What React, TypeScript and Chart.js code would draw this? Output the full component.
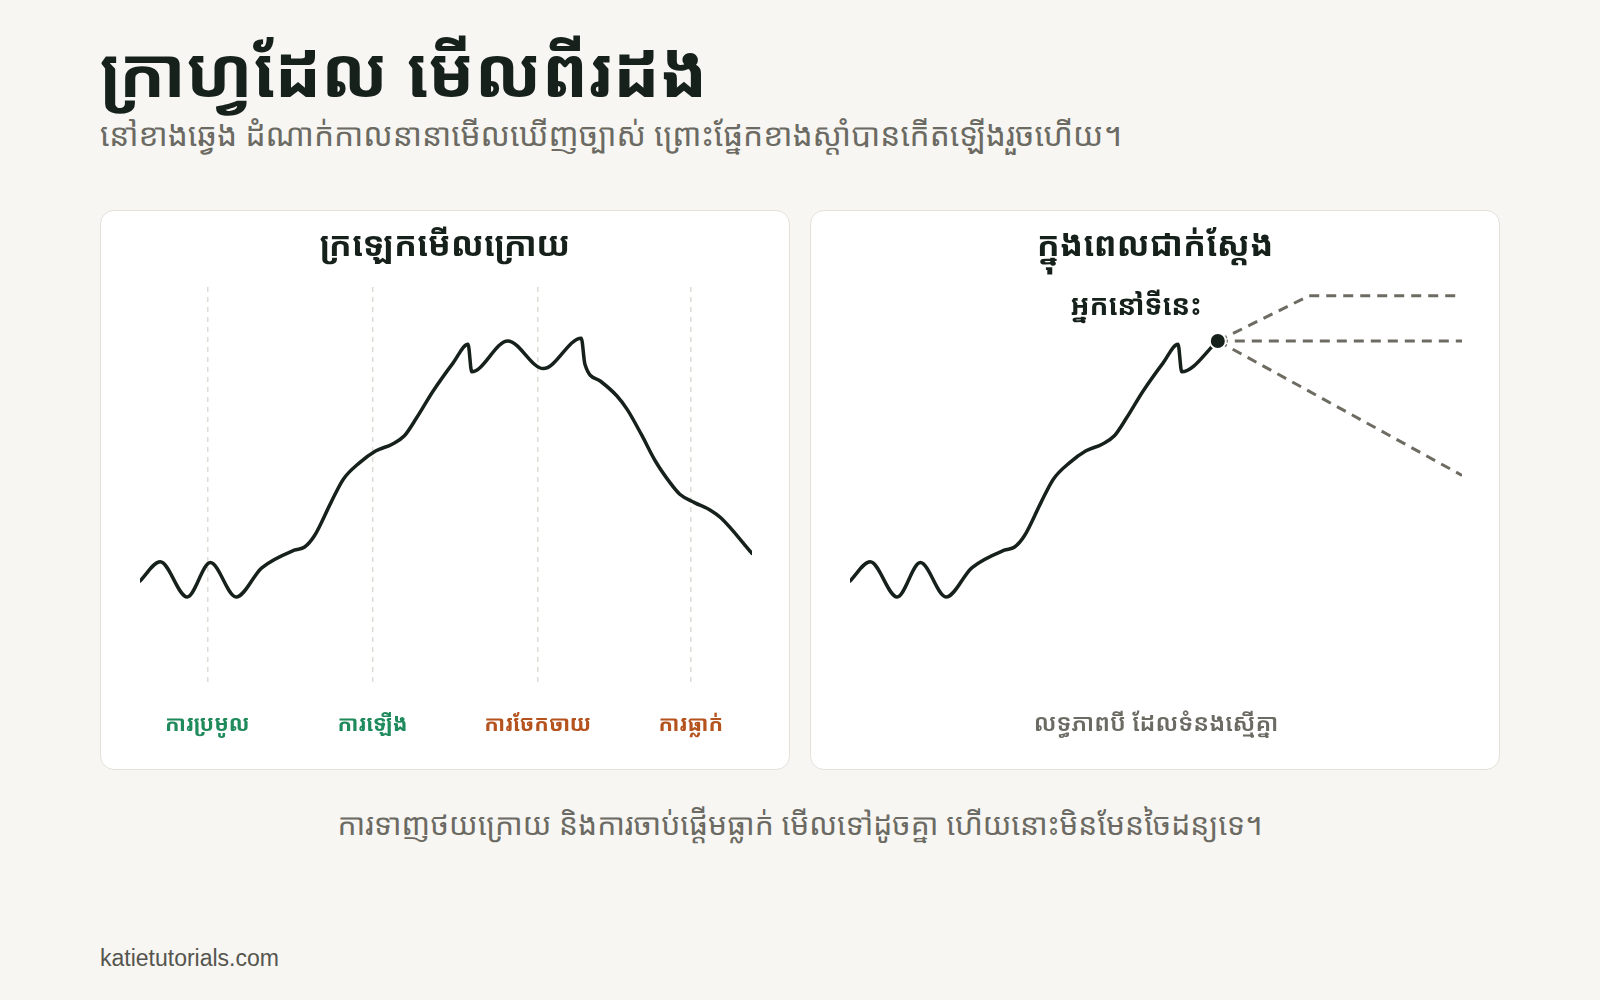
import React, { useEffect, useRef } from "react";
import { Chart, registerables } from "chart.js";

Chart.register(...registerables);

const FONT = '"Noto Sans Khmer", "Liberation Sans", sans-serif';

// Price path (time units 0..100, price units 0..100)
const timeX = [
  0.0, 3.3, 7.7, 11.5, 15.7, 19.9, 25.2, 26.9, 28.5, 31.2, 33.2, 35.9, 38.5, 41.2, 43.2, 45.2, 47.9, 51.2,
  53.6, 54.2, 60.1, 65.9, 72.1, 72.7, 75.2, 77.9, 79.6, 81.9, 84.2, 86.6, 88.2, 90.6, 93.2, 94.9, 100.0,
];
const priceY = [
  26.5, 31.3, 22.5, 31.1, 22.5, 29.8, 34.2, 35.0, 37.8, 46.1, 51.9, 56.1, 59.0, 60.7, 62.8, 67.3, 74.0, 81.1,
  85.7, 78.8, 86.5, 79.6, 87.2, 80.7, 76.5, 72.8, 69.4, 63.2, 56.5, 51.1, 48.2, 46.1, 44.2, 42.3, 33.4,
];

// Phase markers (left chart)
const phaseTicks = [11, 38, 65, 90];
const phaseLabels = ["ការប្រមូល", "ការឡើង", "ការចែកចាយ", "ការធ្លាក់"];
const phaseColors = ["#1f8a5c", "#1f8a5c", "#b5531f", "#b5531f"];

// Right chart: path visible up to "now"
const nowCount = 21;
const nowLabel = "អ្នកនៅទីនេះ";

// Scenario projections from "now"
const scenarioUpX = [60.1, 75.0, 100];
const scenarioUpY = [86.5, 97.8, 97.8];
const scenarioFlatX = [60.1, 100];
const scenarioFlatY = [86.5, 86.5];
const scenarioDownX = [60.1, 100];
const scenarioDownY = [86.5, 52.9];

const titleText = "ក្រាហ្វដែល មើលពីរដង";
const subtitleText = "នៅខាងឆ្វេង ដំណាក់កាលនានាមើលឃើញច្បាស់ ព្រោះផ្នែកខាងស្តាំបានកើតឡើងរួចហើយ។";
const leftTitle = "ក្រឡេកមើលក្រោយ";
const rightTitle = "ក្នុងពេលជាក់ស្តែង";
const rightAxisTitle = "លទ្ធភាពបី ដែលទំនងស្មើគ្នា";
const footnote = "ការទាញថយក្រោយ និងការចាប់ផ្តើមធ្លាក់ មើលទៅដូចគ្នា ហើយនោះមិនមែនចៃដន្យទេ។";
const sourceText = "katietutorials.com";

const INK = "#17211c";
const GREY = "#6b6a63";
const DASH_GREY = "#6e6b62";

const pts = (xs: number[], ys: number[]) => xs.map((x, i) => ({ x, y: ys[i] }));

const PANEL_W = 690;
const PANEL_H = 560;

function baseOptions(): any {
  return {
    responsive: false,
    animation: false,
    events: [],
    layout: { padding: { left: 39, right: 39, top: 76, bottom: 24 } },
    plugins: { legend: { display: false }, tooltip: { enabled: false }, title: { display: false } },
    scales: {
      y: { type: "linear", min: 0, max: 100, display: false },
    },
  };
}

const annotationPlugin = {
  id: "nowLabel",
  afterDatasetsDraw(chart: any) {
    if (chart.config.options.plugins.nowLabel?.enabled !== true) return;
    const meta = chart.getDatasetMeta(0);
    if (!meta || !meta.data || !meta.data[0]) return;
    const p = meta.data[0];
    const ctx = chart.ctx;
    ctx.save();
    ctx.font = `700 28px ${FONT}`;
    ctx.fillStyle = INK;
    ctx.textAlign = "center";
    ctx.textBaseline = "middle";
    ctx.fillText(nowLabel, p.x - 82, p.y - 34);
    ctx.restore();
  },
};

function LeftChart() {
  const ref = useRef<HTMLCanvasElement>(null);
  useEffect(() => {
    const opts = baseOptions();
    opts.scales.x = {
      type: "linear",
      min: 0,
      max: 100,
      afterBuildTicks: (scale: any) => {
        scale.ticks = phaseTicks.map((v) => ({ value: v }));
      },
      afterFit: (scale: any) => {
        scale.height = 60;
      },
      border: { display: false, dash: [5, 5] },
      grid: { display: true, drawTicks: false, color: "#dedcd5", lineWidth: 1.5 },
      ticks: {
        autoSkip: false,
        maxRotation: 0,
        padding: 25,
        font: { family: FONT, size: 21.5, weight: "700" },
        color: (c: any) => phaseColors[c.index] || GREY,
        callback: (_v: any, i: number) => phaseLabels[i],
      },
    };
    const chart = new Chart(ref.current!, {
      type: "line",
      data: {
        datasets: [
          {
            data: pts(timeX, priceY),
            borderColor: INK,
            borderWidth: 3.5,
            pointRadius: 0,
            cubicInterpolationMode: "monotone",
            fill: false,
            borderCapStyle: "round",
            borderJoinStyle: "round",
          },
        ],
      },
      options: opts,
    });
    return () => chart.destroy();
  }, []);
  return <canvas ref={ref} width={PANEL_W} height={PANEL_H} style={{ position: "absolute", left: 0, top: 0 }} />;
}

function RightChart() {
  const ref = useRef<HTMLCanvasElement>(null);
  useEffect(() => {
    const opts = baseOptions();
    opts.plugins.nowLabel = { enabled: true };
    opts.scales.x = {
      type: "linear",
      min: 0,
      max: 100,
      afterFit: (scale: any) => {
        scale.height = 60;
      },
      border: { display: false },
      grid: { display: false, drawTicks: false },
      ticks: { display: false },
      title: {
        display: true,
        text: rightAxisTitle,
        color: GREY,
        font: { family: FONT, size: 24, weight: "600" },
        padding: { top: 0, bottom: 8.5 },
      },
    };
    const dashed = (d: any[]) => ({
      data: d,
      borderColor: DASH_GREY,
      borderWidth: 3,
      borderDash: [10, 7],
      pointRadius: 0,
      tension: 0,
      fill: false,
    });
    const chart = new Chart(ref.current!, {
      type: "line",
      data: {
        datasets: [
          {
            data: [{ x: timeX[nowCount - 1], y: priceY[nowCount - 1] }],
            pointRadius: 8,
            pointBackgroundColor: INK,
            pointBorderColor: "#ffffff",
            pointBorderWidth: 2,
            showLine: false,
          },
          {
            data: pts(timeX.slice(0, nowCount), priceY.slice(0, nowCount)),
            borderColor: INK,
            borderWidth: 3.5,
            pointRadius: 0,
            cubicInterpolationMode: "monotone",
            fill: false,
            borderCapStyle: "round",
            borderJoinStyle: "round",
          },
          dashed(pts(scenarioUpX, scenarioUpY)),
          dashed(pts(scenarioFlatX, scenarioFlatY)),
          dashed(pts(scenarioDownX, scenarioDownY)),
        ],
      },
      options: opts,
      plugins: [annotationPlugin],
    });
    return () => chart.destroy();
  }, []);
  return <canvas ref={ref} width={PANEL_W} height={PANEL_H} style={{ position: "absolute", left: 0, top: 0 }} />;
}

const panelStyle = (left: number): React.CSSProperties => ({
  position: "absolute",
  left,
  top: 210,
  width: PANEL_W,
  height: PANEL_H,
  boxSizing: "border-box",
  background: "#ffffff",
  border: "1.5px solid #e4e1d9",
  borderRadius: 14,
  overflow: "hidden",
});

const panelTitleStyle: React.CSSProperties = {
  position: "absolute",
  left: 0,
  right: 0,
  top: 8,
  textAlign: "center",
  fontFamily: FONT,
  fontWeight: 700,
  fontSize: 34,
  lineHeight: "48px",
  color: INK,
};

export default function App() {
  return (
    <div
      style={{
        position: "fixed",
        left: 0,
        top: 0,
        width: 1600,
        height: 1000,
        background: "#f7f6f2",
        fontFamily: FONT,
        overflow: "hidden",
      }}
    >
      <div
        style={{
          position: "absolute",
          left: 100,
          top: 28,
          fontSize: 69,
          fontWeight: 700,
          lineHeight: "84px",
          color: INK,
          whiteSpace: "nowrap",
        }}
      >
        {titleText}
      </div>
      <div
        style={{
          position: "absolute",
          left: 100,
          top: 112,
          fontSize: 31.7,
          lineHeight: "44px",
          color: GREY,
          whiteSpace: "nowrap",
        }}
      >
        {subtitleText}
      </div>

      <div style={panelStyle(100)}>
        <LeftChart />
        <div style={panelTitleStyle}>{leftTitle}</div>
      </div>
      <div style={panelStyle(810)}>
        <RightChart />
        <div style={panelTitleStyle}>{rightTitle}</div>
      </div>

      <div
        style={{
          position: "absolute",
          left: 0,
          width: 1600,
          top: 803,
          textAlign: "center",
          fontSize: 30,
          lineHeight: "42px",
          color: GREY,
          whiteSpace: "nowrap",
        }}
      >
        {footnote}
      </div>
      <div
        style={{
          position: "absolute",
          left: 100,
          top: 944,
          fontFamily: '"Liberation Sans", Arial, sans-serif',
          fontSize: 23,
          lineHeight: "28px",
          color: "#55554f",
        }}
      >
        {sourceText}
      </div>
    </div>
  );
}
